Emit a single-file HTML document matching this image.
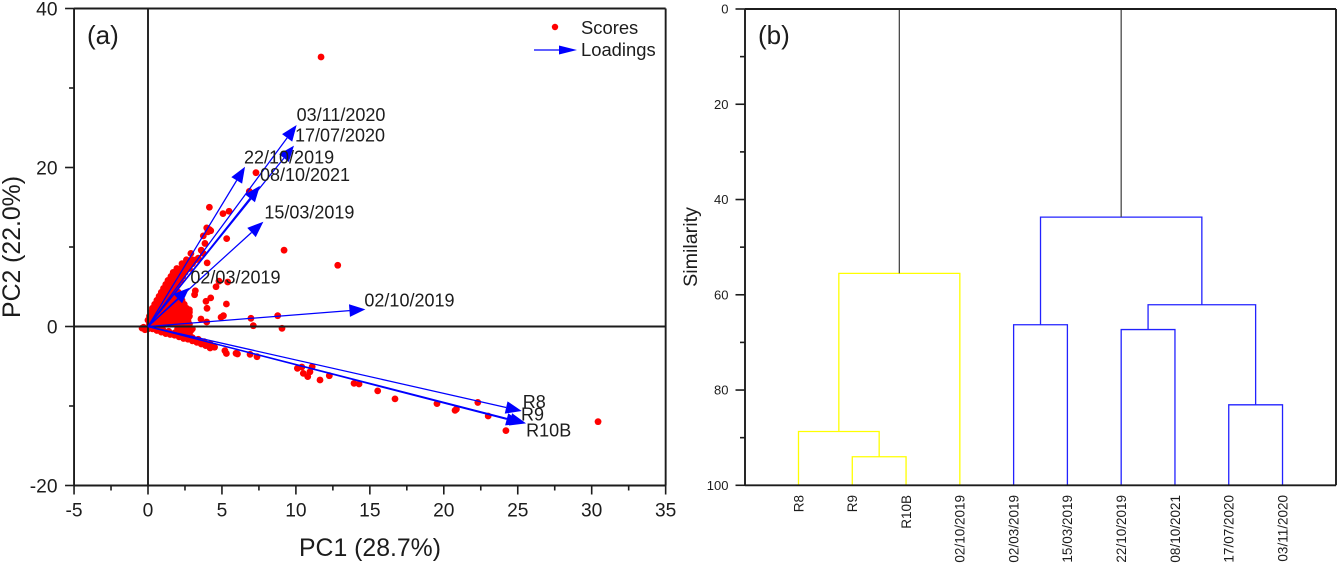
<!DOCTYPE html>
<html lang="en">
<head>
<meta charset="utf-8">
<title>PCA biplot and similarity dendrogram</title>
<style>
html,body{margin:0;padding:0;background:#fff;width:1338px;height:563px;overflow:hidden}
svg{display:block}
text{font-family:"Liberation Sans",Arial,sans-serif;fill:#1c1c1c}
</style>
</head>
<body>
<svg id="figure" width="1338" height="563" viewBox="0 0 1338 563" xmlns="http://www.w3.org/2000/svg">
  <g id="pca-marks"></g>
  <g id="pca-axes"></g>
  <g id="pca-arrows"></g>
  <g id="dendro-links"></g>
  <g id="dendro-axes"></g>

  <text x="87" y="44" font-size="26">(a)</text>
  <text x="370" y="556" font-size="24.8" text-anchor="middle">PC1 (28.7%)</text>
  <text transform="translate(20,247) rotate(-90)" font-size="24.8" text-anchor="middle">PC2 (22.0%)</text>

  <g>
    <circle cx="555" cy="27" r="3.2" fill="#ff0000"></circle>
    <text x="581" y="34" font-size="18.4">Scores</text>
    <line x1="534" y1="50" x2="560" y2="50" stroke="#0000ff" stroke-width="1.3"></line>
    <polygon points="577,50 559,45.5 559,54.5" fill="#0000ff"></polygon>
    <text x="581" y="56" font-size="18.4">Loadings</text>
  </g>

  <text x="758" y="44" font-size="26">(b)</text>
  <text transform="translate(697,247) rotate(-90)" font-size="19.7" text-anchor="middle">Similarity</text>
</svg>
<script>
const pc1Scores = [
  11.7,7.3,4.15,5.48,5.07,6.85,3.97,4.24,4.15,4.05,
  5.32,3.74,3.85,3.6,9.2,2.9,4.0,12.83,2.84,3.74,
  4.8,5.39,4.6,3.2,3.15,4.24,3.92,5.3,3.99,5.1,
  4.94,6.96,8.77,7.12,9.06,3.58,3.97,3.4,3.07,2.6,
  5.2,5.3,5.95,6.05,6.9,7.37,10.1,10.4,10.5,10.8,
  10.95,11.1,11.63,12.26,13.93,14.27,15.53,16.7,19.54,20.76,
  20.85,22.3,23,24.2,30.43,
  0.3,0.6,0.9,1.2,1.5,1.8,2.1,2.4,2.7,3.0,
  3.3,3.6,3.9,4.2,4.5,4.2,3.8,3.4,3.0,2.6,
  2.2,1.8,1.4,1.0,0.7,0.3,0,-0.3,-0.2,-0.4,
  2.0,2.3,2.6,2.9,2.5,2.8,3.0,
  0.1,0.4,0.7,1,1.3,1.6,1.9,2.2,2.5,2.8,
  0,0.3,0.6,0.9,1.2,1.5,1.8,2.1,2.4,2.7,
  0.1,0.4,0.7,1,1.3,1.6,1.9,2.2,2.5,2.8,
  0.2,0.5,0.8,1.1,1.4,1.7,2,2.3,2.6,2.8,
  0.3,0.6,0.9,1.2,1.5,1.8,2.1,2.4,2.6,2.8,
  0.45,0.75,1.05,1.35,1.65,1.95,2.25,2.45,
  0.6,0.9,1.2,1.5,1.8,2.1,2.3,
  0.75,1.05,1.35,1.65,1.95,2.15,
  0.9,1.2,1.5,1.8,2.05,
  1.05,1.35,1.65,1.9,
  1.2,1.5,1.8,2.0,
  1.35,1.65,1.95,2.2,
  1.55,1.85,2.1,2.35,
  1.7,2.0,2.3,2.5,
  1.95,2.25,2.55,2.8,
  2.3,2.7,3.0,
  2.6,3.0,3.25
];
const pc2Scores = [
  33.9,19.35,15.0,14.5,14.2,17.0,12.4,12.05,12.2,11.9,
  11.05,11.4,10.45,9.6,9.6,9.2,8.0,7.7,7.7,9.2,
  5.7,5.6,5.0,4.5,4.0,3.6,3.17,2.83,2.29,1.36,
  1.16,1.03,1.36,0.1,-0.23,0.94,0.57,8.6,8.15,7.7,
  -3.04,-3.4,-3.37,-3.45,-3.5,-3.8,-5.26,-5.1,-5.9,-6.3,
  -5.7,-5.05,-6.73,-6.19,-7.15,-7.23,-8.1,-9.1,-9.7,-10.55,
  -10.4,-9.55,-11.26,-13.1,-11.97,
  -0.3,-0.5,-0.7,-0.9,-1.0,-1.1,-1.3,-1.5,-1.6,-1.8,
  -2.0,-2.2,-2.4,-2.7,-2.6,-2.2,-1.9,-1.6,-1.4,-1.2,
  -1.0,-0.8,-0.6,-0.4,-0.3,-0.1,-0.3,-0.1,-0.4,-0.2,
  -0.3,-0.4,-0.3,-0.5,-0.8,-0.9,-0.3,
  0.3,0.3,0.3,0.3,0.3,0.3,0.3,0.3,0.3,0.3,
  0.8,0.8,0.8,0.8,0.8,0.8,0.8,0.8,0.8,0.8,
  1.3,1.3,1.3,1.3,1.3,1.3,1.3,1.3,1.3,1.3,
  1.8,1.8,1.8,1.8,1.8,1.8,1.8,1.8,1.8,1.8,
  2.3,2.3,2.3,2.3,2.3,2.3,2.3,2.3,2.3,2.1,
  2.8,2.8,2.8,2.8,2.8,2.8,2.8,2.8,
  3.3,3.3,3.3,3.3,3.3,3.3,3.3,
  3.8,3.8,3.8,3.8,3.8,3.8,
  4.3,4.3,4.3,4.3,4.3,
  4.8,4.8,4.8,4.8,
  5.3,5.3,5.3,5.3,
  5.8,5.8,5.8,5.8,
  6.3,6.3,6.3,6.3,
  6.8,6.8,6.8,6.8,
  7.3,7.3,7.3,7.3,
  7.9,7.9,7.9,
  8.4,8.4,8.4
];

const loadingNames = ["03/11/2020","17/07/2020","22/10/2019","08/10/2021","15/03/2019","02/03/2019","02/10/2019","R8","R9","R10B"];
const loadingPC1 = [10.05,9.87,6.56,7.57,7.8,2.8,14.7,25.27,25.56,25.3];
const loadingPC2 = [25.35,22.75,20.1,17.7,13.18,4.88,2.16,-10.63,-12.18,-12.18];

const pc1MajorTicks = [-5,0,5,10,15,20,25,30,35];
const pc1MinorTicks = [-2.5,2.5,7.5,12.5,17.5,22.5,27.5,32.5];
const pc2MajorTicks = [-20,0,20,40];
const pc2MinorTicks = [-10,10,30];

const similarityMajorTicks = [0,20,40,60,80,100];
const similarityMinorTicks = [10,30,50,70,90];
const leafNames = ["R8","R9","R10B","02/10/2019","02/03/2019","15/03/2019","22/10/2019","08/10/2021","17/07/2020","03/11/2020"];
/* node ids below 10 are leaves; 10 and up refer to an earlier merge */
const mergeLeft = [1,0,11,4,6,8,14,13];
const mergeRight = [2,10,3,5,7,9,15,16];
const mergeSimilarity = [94.0,88.7,55.5,66.3,67.3,83.1,62.1,43.7];
const mergeCluster = ["yellow","yellow","yellow","blue","blue","blue","blue","blue"];
const rootMerges = [12,17];

const NS = "http://www.w3.org/2000/svg";
function make(tag, attrs, parent) {
  const node = document.createElementNS(NS, tag);
  for (const key in attrs) node.setAttribute(key, attrs[key]);
  parent.appendChild(node);
  return node;
}

/* ---------- panel (a): axis functions ---------- */
const xA = v => 148 + 14.79 * v;
const yA = v => 326.5 - 7.95 * v;
const INK = "#1c1c1c";

const marks = document.getElementById("pca-marks");
pc1Scores.forEach((v, i) => {
  const dot = make("circle", {cx: xA(v), cy: yA(pc2Scores[i]), r: 3.4, fill: "#ff0000"}, marks);
  
  
});

const axesA = document.getElementById("pca-axes");
function ruleA(x1, y1, x2, y2, name, width) {
  const line = make("line", {x1, y1, x2, y2, stroke: INK, "stroke-width": width}, axesA);
  
  
}
ruleA(xA(-5), yA(40), xA(35), yA(40), "pca-top-border", 1.9);
ruleA(xA(-5), yA(-20), xA(35), yA(-20), "pca-bottom-axis", 1.9);
ruleA(xA(-5), yA(40), xA(-5), yA(-20), "pca-left-axis", 1.9);
ruleA(xA(35), yA(40), xA(35), yA(-20), "pca-right-border", 1.9);
ruleA(xA(0), yA(40), xA(0), yA(-20), "pca-vertical-zero-line", 1.9);
ruleA(xA(-5), yA(0), xA(35), yA(0), "pca-horizontal-zero-line", 2);

pc1MajorTicks.forEach(v => {
  ruleA(xA(v), yA(-20), xA(v), yA(-20) + 9, "pc1-major-tick", 1.6);
  const label = make("text", {x: xA(v), y: 516.5, "font-size": 19.2, "text-anchor": "middle"}, axesA);
  
  
  label.textContent = String(v);
});
pc1MinorTicks.forEach(v => ruleA(xA(v), yA(-20), xA(v), yA(-20) + 5, "pc1-minor-tick", 1.6));
pc2MajorTicks.forEach(v => {
  ruleA(xA(-5) - 9, yA(v), xA(-5), yA(v), "pc2-major-tick", 1.6);
  const label = make("text", {x: 57.5, y: yA(v) + 7, "font-size": 19.2, "text-anchor": "end"}, axesA);
  
  
  label.textContent = String(v);
});
pc2MinorTicks.forEach(v => ruleA(xA(-5) - 5, yA(v), xA(-5), yA(v), "pc2-minor-tick", 1.6));

/* ---------- panel (a): loadings ---------- */
const labelNudge = [[0,-4],[1,-4],[-1,-3],[0,-5],[1,-3],[1,-4],[-1,-3],[1,-3],[-5,-3],[4,13]];
const arrowLayer = document.getElementById("pca-arrows");
loadingNames.forEach((name, i) => {
  const tipX = xA(loadingPC1[i]);
  const tipY = yA(loadingPC2[i]);
  const ox = xA(0), oy = yA(0);
  const len = Math.hypot(tipX - ox, tipY - oy);
  const ux = (tipX - ox) / len, uy = (tipY - oy) / len;
  const headLen = 16, headHalf = 6.3;
  const bx = tipX - ux * headLen, by = tipY - uy * headLen;
  const shaft = make("line", {x1: ox, y1: oy, x2: bx, y2: by, stroke: "#0000ff", "stroke-width": 1.25}, arrowLayer);
  
  
  const pts = [tipX, tipY, bx - uy * headHalf, by + ux * headHalf, bx + uy * headHalf, by - ux * headHalf].join(",");
  const head = make("polygon", {points: pts, fill: "#0000ff"}, arrowLayer);
  
  
});
loadingNames.forEach((name, i) => {
  const label = make("text", {x: xA(loadingPC1[i]) + labelNudge[i][0], y: yA(loadingPC2[i]) + labelNudge[i][1], "font-size": 18}, arrowLayer);
  
  
  label.textContent = name;
});

/* ---------- panel (b): axis functions ---------- */
const xLeaf = i => 798.5 + 53.78 * i;
const ySim = v => 9 + 4.763 * v;
const PLOT_B = {left: 745, right: 1336};
const clusterColor = {yellow: "#ffff00", blue: "#2222ff"};

const links = document.getElementById("dendro-links");
function nodeX(id) {
  if (id < 10) return xLeaf(id);
  const m = id - 10;
  return (nodeX(mergeLeft[m]) + nodeX(mergeRight[m])) / 2;
}
function nodeSim(id) {
  return id < 10 ? 100 : mergeSimilarity[id - 10];
}
mergeLeft.forEach((left, m) => {
  const right = mergeRight[m];
  const d = "M" + nodeX(left) + " " + ySim(nodeSim(left)) +
            "V" + ySim(mergeSimilarity[m]) +
            "H" + nodeX(right) +
            "V" + ySim(nodeSim(right));
  const link = make("path", {d, fill: "none", stroke: clusterColor[mergeCluster[m]], "stroke-width": 1.3}, links);
  
  
});
rootMerges.forEach(id => {
  const stem = make("line", {x1: nodeX(id), y1: ySim(0), x2: nodeX(id), y2: ySim(nodeSim(id)), stroke: "#4a4a4a", "stroke-width": 1.3}, links);
  
  
});

const axesB = document.getElementById("dendro-axes");
function ruleB(x1, y1, x2, y2, name, width) {
  const line = make("line", {x1, y1, x2, y2, stroke: INK, "stroke-width": width}, axesB);
  
  
}
ruleB(PLOT_B.left, ySim(0), PLOT_B.right, ySim(0), "dendrogram-top-border", 1.9);
ruleB(PLOT_B.left, ySim(100), PLOT_B.right, ySim(100), "dendrogram-bottom-border", 1.9);
ruleB(PLOT_B.left, ySim(0), PLOT_B.left, ySim(100), "similarity-axis-line", 1.9);
ruleB(PLOT_B.right, ySim(0), PLOT_B.right, ySim(100), "dendrogram-right-border", 1.9);

similarityMajorTicks.forEach(v => {
  ruleB(PLOT_B.left - 9.5, ySim(v), PLOT_B.left, ySim(v), "similarity-major-tick", 1.6);
  const label = make("text", {x: 728.5, y: ySim(v) + 4.5, "font-size": 13, "text-anchor": "end"}, axesB);
  
  
  label.textContent = String(v);
});
similarityMinorTicks.forEach(v => ruleB(PLOT_B.left - 5, ySim(v), PLOT_B.left, ySim(v), "similarity-minor-tick", 1.6));

leafNames.forEach((name, i) => {
  const label = make("text", {transform: "translate(" + (xLeaf(i) + 4.8) + ",495) rotate(-90)", "font-size": 13.5, "text-anchor": "end"}, axesB);
  
  
  label.textContent = name;
});
</script>
</body>
</html>
